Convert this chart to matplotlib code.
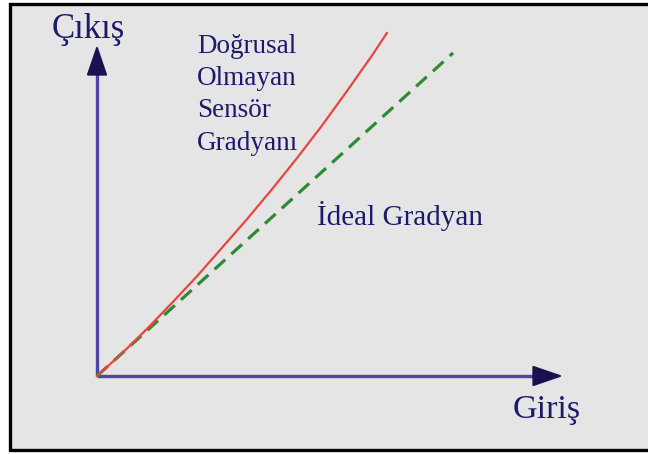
import numpy as np
import matplotlib
matplotlib.use("Agg")
import matplotlib.pyplot as plt
from matplotlib.patches import Rectangle

# --- Data (input / output, arbitrary units) ---
nonlinear_x = [0.0, 0.54, 1.07, 1.61, 2.15, 2.68, 3.22, 3.76, 4.29, 4.83, 5.36, 5.90, 6.22]
nonlinear_y = [0.0, 0.69, 1.42, 2.21, 3.02, 3.87, 4.74, 5.65, 6.58, 7.57, 8.60, 9.68, 10.36]
ideal_x = [0.0, 7.64]
ideal_y = [0.0, 9.76]

nonlinear_label = ["Doğrusal", "Olmayan", "Sensör", "Gradyanı"]
ideal_label = "İdeal Gradyan"
x_label = "Giriş"
y_label = "Çıkış"

# --- Styles ---
text_color = "#1c1a6a"
shaft_color = "#4f43a8"
head_color = "#1a1250"
font = "Liberation Serif"

W, H = 648, 454
fig = plt.figure(figsize=(W / 100, H / 100), dpi=100)
fig.patch.set_facecolor("white")

# grey panel with black frame (right edge runs off the picture)
fig.patches.append(Rectangle((10 / W, 4 / H), 660 / W, 446 / H,
                             transform=fig.transFigure, facecolor="#e5e5e5",
                             edgecolor="black", linewidth=2.4, zorder=-5))

ax = fig.add_axes([97 / W, (H - 376) / H, 466 / W, 331 / H])
ax.set_xlim(0, 10)
ax.set_ylim(0, 10)
ax.axis("off")

# --- Axes arrows ---
ax.plot([0, 9.44], [0, 0], color=shaft_color, lw=2.4, solid_capstyle="butt", clip_on=False)
ax.plot([0, 0], [0, 9.18], color=shaft_color, lw=2.4, solid_capstyle="butt", clip_on=False)
head = dict(arrowstyle="-|>,head_length=1.9,head_width=0.65", color=head_color,
            lw=1.5, shrinkA=0, shrinkB=0, mutation_scale=10)
ax.annotate("", xy=(10, 0), xytext=(9.44, 0), arrowprops=head, annotation_clip=False)
ax.annotate("", xy=(0, 10), xytext=(0, 9.18), arrowprops=head, annotation_clip=False)

# --- Curves ---
ax.plot(ideal_x, ideal_y, color="#2e8b33", lw=2.3, dashes=(4.5, 2.6), clip_on=False)
ax.plot(nonlinear_x, nonlinear_y, color="#e8453c", lw=1.6, clip_on=False)

# --- Labels ---
ax.text(-0.97, 10.21, y_label, fontsize=25, family=font, color=text_color,
        ha="left", va="baseline", clip_on=False)
ax.text(8.91, -1.27, x_label, fontsize=24.5, family=font, color=text_color,
        ha="left", va="baseline", clip_on=False)
for i, line in enumerate(nonlinear_label):
    ax.text(2.15, 9.76 - i * 0.975, line, fontsize=19.5, family=font,
            color=text_color, ha="left", va="baseline", clip_on=False)
ax.text(4.72, 4.56, ideal_label, fontsize=21, family=font, color=text_color,
        ha="left", va="baseline", clip_on=False)

fig.savefig("out.png", dpi=100)
